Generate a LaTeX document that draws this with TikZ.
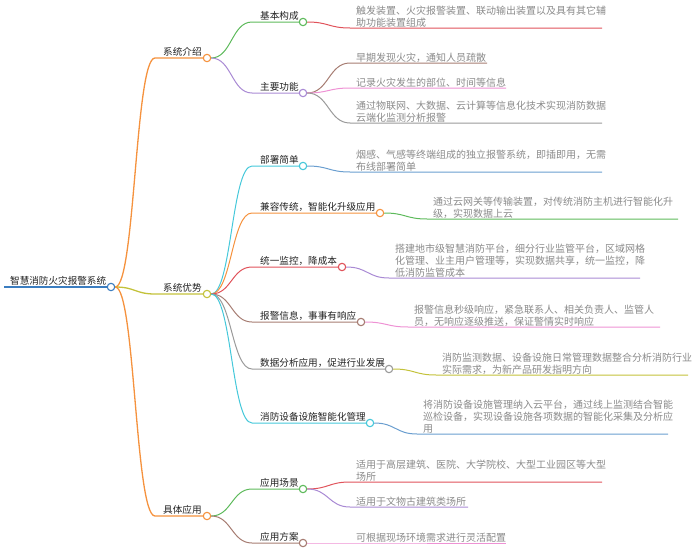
\documentclass[tikz,border=0pt]{standalone}
\usepackage{fontspec}
\newfontfamily\cjk{Noto Sans CJK SC}
\usetikzlibrary{calc}
\definecolor{cRoot}{HTML}{3B7DC0}
\definecolor{cOrange}{HTML}{F5923E}
\definecolor{cOlive}{HTML}{C3C23A}
\definecolor{cGreen}{HTML}{5DBA5B}
\definecolor{cPurple}{HTML}{A98AD4}
\definecolor{cRed}{HTML}{E0525A}
\definecolor{cBrown}{HTML}{A67C72}
\definecolor{cPink}{HTML}{EE92D4}
\definecolor{cGray}{HTML}{9A9A9A}
\definecolor{cCyan}{HTML}{45C8DA}
\definecolor{cBlue}{HTML}{6A9ECF}
\definecolor{cText}{HTML}{222222}
\definecolor{cLeaf}{HTML}{8A8A8A}
\tikzset{
  mm/.style={to path={let \p1=(\tikztostart), \p2=(\tikztotarget) in
     .. controls ({(\x1+\x2)/2},\y1) and ({(\x1+\x2)/2},\y2) .. (\tikztotarget)}},
  dot/.style={circle, draw=#1, fill=white, line width=1.1pt, minimum size=7.4pt, inner sep=0pt},
  rtext/.style={font=\cjk\fontsize{9.6}{12}\selectfont, text=cText, inner sep=0pt, anchor=base west},
  mtext/.style={font=\cjk\fontsize{9.6}{12}\selectfont, text=cText, inner sep=0pt, anchor=base west},
  ltext/.style={font=\cjk\fontsize{10}{12}\selectfont, text=cLeaf, inner sep=0pt, anchor=base west, align=left},
  eone/.style={draw=#1, line width=1.3pt},
  etwo/.style={draw=#1, line width=1pt},
}
\begin{document}
\begin{tikzpicture}[x=1pt,y=-1pt]
\useasboundingbox (0,0) rectangle (694,554);

% root
\node[rtext] (root) at (10,284) {智慧消防火灾报警系统};
\coordinate (r0) at (4,287);
\node[dot=cRoot] (rc) at (111,287) {};
\draw[cRoot, line width=2.6pt] (r0) -- (rc.west);

% level 1
\node[mtext] (A) at (163,55.5) {系统介绍};
\coordinate (A0) at (155,58);
\node[dot=cOrange] (Ac) at (207,58) {};
\draw[eone=cOrange] (rc.east) to[mm] (A0) -- (Ac.west);

\node[mtext] (B) at (163,291.5) {系统优势};
\coordinate (B0) at (155,294);
\node[dot=cOlive] (Bc) at (207,294) {};
\draw[eone=cOlive] (rc.east) to[mm] (B0) -- (Bc.west);

\node[mtext] (C) at (163,513.5) {具体应用};
\coordinate (C0) at (155,516);
\node[dot=cOrange] (Cc) at (207,516) {};
\draw[eone=cOrange] (rc.east) to[mm] (C0) -- (Cc.west);

% level 2 : 系统介绍
\node[mtext] (A1) at (260,19.5) {基本构成};
\coordinate (A10) at (252,22);
\node[dot=cGreen] (A1c) at (303,22) {};
\draw[etwo=cGreen] (Ac.east) to[mm] (A10) -- (A1c.west);

\node[mtext] (A2) at (260,90.5) {主要功能};
\coordinate (A20) at (252,93);
\node[dot=cPurple] (A2c) at (303,93) {};
\draw[etwo=cPurple] (Ac.east) to[mm] (A20) -- (A2c.west);

% level 2 : 系统优势
\node[mtext] (B1) at (260,163.5) {部署简单};
\coordinate (B10) at (252,166);
\node[dot=cCyan] (B1c) at (303,166) {};
\draw[etwo=cCyan] (Bc.east) to[mm] (B10) -- (B1c.west);

\node[mtext] (B2) at (260,210.5) {兼容传统，智能化升级应用};
\coordinate (B20) at (252,213);
\node[dot=cOrange] (B2c) at (380,213) {};
\draw[etwo=cOrange] (Bc.east) to[mm] (B20) -- (B2c.west);

\node[mtext] (B3) at (260,264.5) {统一监控，降成本};
\coordinate (B30) at (252,267);
\node[dot=cRed] (B3c) at (342,267) {};
\draw[etwo=cRed] (Bc.east) to[mm] (B30) -- (B3c.west);

\node[mtext] (B4) at (260,319.5) {报警信息，事事有响应};
\coordinate (B40) at (252,322);
\node[dot=cBrown] (B4c) at (361,322) {};
\draw[etwo=cBrown] (Bc.east) to[mm] (B40) -- (B4c.west);

\node[mtext] (B5) at (260,366.5) {数据分析应用，促进行业发展};
\coordinate (B50) at (252,369);
\node[dot=cGray] (B5c) at (389,369) {};
\draw[etwo=cGray] (Bc.east) to[mm] (B50) -- (B5c.west);

\node[mtext] (B6) at (260,420.5) {消防设备设施智能化管理};
\coordinate (B60) at (252,423);
\node[dot=cCyan] (B6c) at (370,423) {};
\draw[etwo=cCyan] (Bc.east) to[mm] (B60) -- (B6c.west);

% level 2 : 具体应用
\node[mtext] (C1) at (260,486.5) {应用场景};
\coordinate (C10) at (252,489);
\node[dot=cGreen] (C1c) at (303,489) {};
\draw[etwo=cGreen] (Cc.east) to[mm] (C10) -- (C1c.west);

\node[mtext] (C2) at (260,540.5) {应用方案};
\coordinate (C20) at (252,543);
\node[dot=cBrown] (C2c) at (303,543) {};
\draw[etwo=cBrown] (Cc.east) to[mm] (C20) -- (C2c.west);

% leaves (anchor = baseline of last line)
\node[ltext] (a1) at (356,26) {触发装置、火灾报警装置、联动输出装置以及具有其它辅\\助功能装置组成};
\coordinate (a1s) at (350,28); \coordinate (a1e) at (602,28);
\draw[etwo=cRed] (A1c.east) to[mm] (a1s) -- (a1e);

\node[ltext] (a2) at (356,61) {早期发现火灾，通知人员疏散};
\coordinate (a2s) at (350,63); \coordinate (a2e) at (487,63);
\draw[etwo=cBrown] (A2c.east) to[mm] (a2s) -- (a2e);

\node[ltext] (a3) at (356,86) {记录火灾发生的部位、时间等信息};
\coordinate (a3s) at (350,88); \coordinate (a3e) at (506,88);
\draw[etwo=cPink] (A2c.east) to[mm] (a3s) -- (a3e);

\node[ltext] (a4) at (356,121) {通过物联网、大数据、云计算等信息化技术实现消防数据\\云端化监测分析报警};
\coordinate (a4s) at (350,123); \coordinate (a4e) at (602,123);
\draw[etwo=cGray] (A2c.east) to[mm] (a4s) -- (a4e);

\node[ltext] (b1) at (356,170) {烟感、气感等终端组成的独立报警系统，即插即用，无需\\布线部署简单};
\coordinate (b1s) at (350,172); \coordinate (b1e) at (602,172);
\draw[etwo=cBlue] (B1c.east) to[mm] (b1s) -- (b1e);

\node[ltext] (b2) at (433,217) {通过云网关等传输装置，对传统消防主机进行智能化升\\级，实现数据上云};
\coordinate (b2s) at (427,219); \coordinate (b2e) at (678,219);
\draw[etwo=cGreen] (B2c.east) to[mm] (b2s) -- (b2e);

\node[ltext] (b3) at (395,276) {搭建地市级智慧消防平台，细分行业监管平台，区域网格\\化管理、业主用户管理等，实现数据共享，统一监控，降\\低消防监管成本};
\coordinate (b3s) at (389,278); \coordinate (b3e) at (640,278);
\draw[etwo=cPurple] (B3c.east) to[mm] (b3s) -- (b3e);

\node[ltext] (b4) at (414,325) {报警信息秒级响应，紧急联系人、相关负责人、监管人\\员，无响应逐级推送，保证警情实时响应};
\coordinate (b4s) at (408,327); \coordinate (b4e) at (660,327);
\draw[etwo=cPink] (B4c.east) to[mm] (b4s) -- (b4e);

\node[ltext] (b5) at (442,373) {消防监测数据、设备设施日常管理数据整合分析消防行业\\实际需求，为新产品研发指明方向};
\coordinate (b5s) at (436,375); \coordinate (b5e) at (688,375);
\draw[etwo=cOlive] (B5c.east) to[mm] (b5s) -- (b5e);

\node[ltext] (b6) at (423,432) {将消防设备设施管理纳入云平台，通过线上监测结合智能\\巡检设备，实现设备设施各项数据的智能化采集及分析应\\用};
\coordinate (b6s) at (417,434); \coordinate (b6e) at (668,434);
\draw[etwo=cBlue] (B6c.east) to[mm] (b6s) -- (b6e);

\node[ltext] (c1) at (356,480) {适用于高层建筑、医院、大学院校、大型工业园区等大型\\场所};
\coordinate (c1s) at (350,482); \coordinate (c1e) at (602,482);
\draw[etwo=cRed] (C1c.east) to[mm] (c1s) -- (c1e);

\node[ltext] (c2) at (356,505) {适用于文物古建筑类场所};
\coordinate (c2s) at (350,507); \coordinate (c2e) at (468,507);
\draw[etwo=cPurple] (C1c.east) to[mm] (c2s) -- (c2e);

\node[ltext] (c3) at (356,541) {可根据现场环境需求进行灵活配置};
\coordinate (c3s) at (350,543); \coordinate (c3e) at (506,543);
\draw[etwo=cPink] (C2c.east) to[mm] (c3s) -- (c3e);
\end{tikzpicture}
\end{document}
